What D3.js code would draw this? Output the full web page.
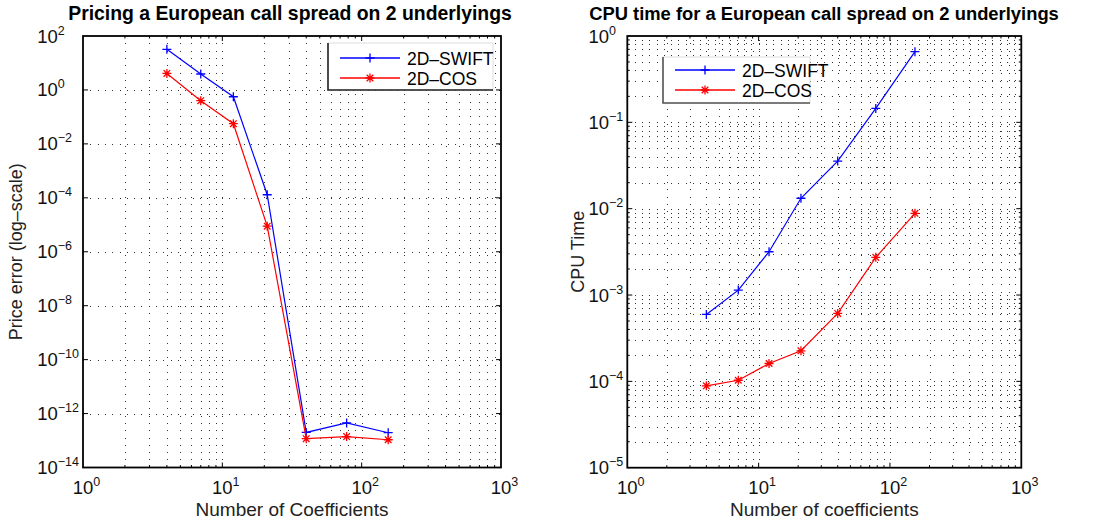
<!DOCTYPE html>
<html>
<head>
<meta charset="utf-8">
<script src="https://cdn.jsdelivr.net/npm/d3@7"></script>
<style>
  body { margin: 0; background: #fff; }
  text { font-family: "Liberation Sans", Arial, Helvetica, sans-serif; }
</style>
</head>
<body>
<div id="chart"></div>
<script>
// number of coefficients (same for both panels)
const coefN = [4, 7, 12, 21, 40, 78, 155];

// left panel: price error
const priceSwift = [32, 3.9, 0.56, 1.3e-4, 2.0e-13, 4.5e-13, 1.95e-13];
const priceCos = [4.1, 0.40, 0.056, 8.9e-6, 1.17e-13, 1.4e-13, 1.07e-13];

// right panel: cpu time
const cpuSwift = [5.96e-4, 1.14e-3, 3.17e-3, 1.32e-2, 3.56e-2, 0.145, 0.658];
const cpuCos = [8.87e-5, 1.03e-4, 1.61e-4, 2.26e-4, 6.12e-4, 2.73e-3, 8.83e-3];

const seriesNames = ['2D\u2013SWIFT', '2D\u2013COS'];
const xTickExps = [0, 1, 2, 3];
const priceTickExps = [2, 0, -2, -4, -6, -8, -10, -12, -14];
const cpuTickExps = [0, -1, -2, -3, -4, -5];

const W = 1095, H = 519;
const svg = d3.select('#chart').append('svg')
  .attr('width', W)
  .attr('height', H);

const colors = ['#0000ff', '#ff0000'];
const markers = [
  'M-4.5,0H4.5M0,-4.5V4.5',
  'M-4.5,0H4.5M0,-4.5V4.5M-3.3,-3.3L3.3,3.3M-3.3,3.3L3.3,-3.3'
];

function tickLabel(g, exp) {
  const t = g.append('text').attr('fill', '#111');
  t.append('tspan').attr('font-size', '18.5px').text('10');
  t.append('tspan').attr('font-size', '12.5px').attr('dy', -8)
    .text(String(exp).replace('-', '\u2212'));
  return t;
}

// shrink/grow a text's font so it spans a given width
function fitWidth(t, target) {
  const w = t.node().getComputedTextLength();
  const fs = parseFloat(t.attr('font-size'));
  t.attr('font-size', (fs * target / w).toFixed(2) + 'px');
}

function drawPanel(p) {
  const x = d3.scaleLog().domain([1, 1000]).range([p.left, p.right]);
  const y = d3.scaleLog().domain(p.yDomain).range([p.bottom, p.top]);
  const g = svg.append('g');

  // grid values
  const xGrid = [];
  for (let k = 0; k < 3; k++) {
    for (let m = 1; m < 10; m++) {
      const v = m * Math.pow(10, k);
      if (v > 1) xGrid.push({v, major: m === 1});
    }
  }
  const yGrid = [];
  if (p.yMinor) {
    const lo = Math.round(Math.log10(p.yDomain[0]));
    const hi = Math.round(Math.log10(p.yDomain[1]));
    for (let k = lo; k < hi; k++) {
      for (let m = 1; m < 10; m++) {
        const v = m * Math.pow(10, k);
        if (v > p.yDomain[0]) yGrid.push({v, major: m === 1});
      }
    }
  } else {
    p.yTicks.forEach(e => {
      const v = Math.pow(10, e);
      if (v > p.yDomain[0] && v < p.yDomain[1]) yGrid.push({v, major: true});
    });
  }

  const grid = g.append('g')
    .attr('stroke', '#333')
    .attr('stroke-width', 1)
    .attr('stroke-dasharray', '1,6.3')
    .attr('shape-rendering', 'crispEdges');

  grid.selectAll('.vx').data(xGrid).enter().append('line')
    .attr('x1', d => Math.round(x(d.v)) + 0.5)
    .attr('x2', d => Math.round(x(d.v)) + 0.5)
    .attr('y1', p.top)
    .attr('y2', p.bottom);

  grid.selectAll('.hy').data(yGrid).enter().append('line')
    .attr('x1', p.left)
    .attr('x2', p.right)
    .attr('y1', d => Math.round(y(d.v)) + 0.5)
    .attr('y2', d => Math.round(y(d.v)) + 0.5);

  // ticks (inward, all sides)
  const ticks = g.append('g').attr('stroke', '#000').attr('stroke-width', 1);
  xGrid.forEach(d => {
    const len = d.major ? 5 : 2.5;
    const xx = x(d.v);
    ticks.append('line').attr('x1', xx).attr('x2', xx).attr('y1', p.bottom).attr('y2', p.bottom - len);
    ticks.append('line').attr('x1', xx).attr('x2', xx).attr('y1', p.top).attr('y2', p.top + len);
  });
  yGrid.forEach(d => {
    const len = d.major ? 5 : 2.5;
    const yy = y(d.v);
    ticks.append('line').attr('x1', p.left).attr('x2', p.left + len).attr('y1', yy).attr('y2', yy);
    ticks.append('line').attr('x1', p.right).attr('x2', p.right - len).attr('y1', yy).attr('y2', yy);
  });

  // box
  g.append('rect')
    .attr('x', p.left).attr('y', p.top)
    .attr('width', p.right - p.left).attr('height', p.bottom - p.top)
    .attr('fill', 'none').attr('stroke', '#000').attr('stroke-width', 1.8);

  // x tick labels
  xTickExps.forEach(e => {
    const t = tickLabel(g, e);
    t.attr('y', p.bottom + 26);
    const w10 = t.select('tspan').node().getComputedTextLength();
    t.attr('x', x(Math.pow(10, e)) - w10 / 2);
  });

  // y tick labels, left aligned in one column
  const ylabs = p.yTicks.map(e => {
    const t = tickLabel(g, e);
    t.attr('y', y(Math.pow(10, e)) + 6.5);
    return t;
  });
  const maxW = d3.max(ylabs, t => t.node().getBBox().width);
  ylabs.forEach(t => t.attr('x', p.left - 4 - maxW));

  // series
  const line = d3.line().x(d => x(d[0])).y(d => y(d[1]));
  p.series.forEach((vals, i) => {
    const pts = coefN.map((n, j) => [n, vals[j]]);
    g.append('path')
      .attr('d', line(pts))
      .attr('fill', 'none')
      .attr('stroke', colors[i])
      .attr('stroke-width', 1.2);
    g.selectAll(null).data(pts).enter().append('path')
      .attr('transform', d => `translate(${x(d[0])},${y(d[1])})`)
      .attr('d', markers[i])
      .attr('fill', 'none')
      .attr('stroke', colors[i])
      .attr('stroke-width', 1.3);
  });

  // legend
  const lg = p.legend;
  const leg = g.append('g');
  leg.append('rect')
    .attr('x', lg.x).attr('y', lg.y).attr('width', lg.w).attr('height', lg.h)
    .attr('fill', '#fff').attr('stroke', '#ddd').attr('stroke-width', 1);
  leg.append('path')
    .attr('d', `M${lg.x},${lg.y}V${lg.y + lg.h}H${lg.x + lg.w}`)
    .attr('fill', 'none').attr('stroke', lg.edge).attr('stroke-width', 1.6);
  seriesNames.forEach((name, i) => {
    const yy = lg.y + lg.rowY[i];
    leg.append('line')
      .attr('x1', lg.x + lg.lineX[0]).attr('x2', lg.x + lg.lineX[1])
      .attr('y1', yy).attr('y2', yy)
      .attr('stroke', colors[i]).attr('stroke-width', 1.3);
    leg.append('path')
      .attr('transform', `translate(${lg.x + (lg.lineX[0] + lg.lineX[1]) / 2},${yy})`)
      .attr('d', markers[i])
      .attr('fill', 'none').attr('stroke', colors[i]).attr('stroke-width', 1.3);
    leg.append('text')
      .attr('x', lg.x + lg.textX)
      .attr('y', yy + 6.5)
      .attr('font-size', '17.5px')
      .attr('fill', '#000')
      .text(name);
  });

  // titles and axis labels
  const cx = (p.left + p.right) / 2;
  const title = g.append('text')
    .attr('x', p.titleX).attr('y', 20)
    .attr('text-anchor', 'middle')
    .attr('font-size', '18px')
    .attr('font-weight', 'bold')
    .text(p.title);
  fitWidth(title, p.titleW);
  g.append('text')
    .attr('x', cx).attr('y', 516)
    .attr('text-anchor', 'middle')
    .attr('font-size', '19px')
    .attr('fill', '#222')
    .text(p.xLabel);
  g.append('text')
    .attr('transform', `translate(${p.yLabelX},${(p.top + p.bottom) / 2}) rotate(-90)`)
    .attr('text-anchor', 'middle')
    .attr('font-size', '18px')
    .attr('fill', '#222')
    .text(p.yLabel);
}

drawPanel({
  left: 83, right: 501, top: 36, bottom: 467.5,
  yDomain: [1e-14, 1e2],
  yTicks: priceTickExps,
  yMinor: false,
  series: [priceSwift, priceCos],
  title: 'Pricing a European call spread on 2 underlyings',
  titleX: 290, titleW: 444,
  xLabel: 'Number of Coefficients',
  yLabel: 'Price error (log\u2013scale)',
  yLabelX: 21.5,
  legend: {x: 328, y: 43, w: 165, h: 47, rowY: [15, 35], lineX: [12, 72], textX: 79, edge: '#222'}
});

drawPanel({
  left: 627.3, right: 1021.3, top: 36, bottom: 467.7,
  yDomain: [1e-5, 1],
  yTicks: cpuTickExps,
  yMinor: true,
  series: [cpuSwift, cpuCos],
  title: 'CPU time for a European call spread on 2 underlyings',
  titleX: 824, titleW: 470,
  xLabel: 'Number of coefficients',
  yLabel: 'CPU Time',
  yLabelX: 584,
  legend: {x: 663, y: 57, w: 147, h: 46, rowY: [13, 33], lineX: [12, 72], textX: 79, edge: '#555'}
});
</script>
</body>
</html>
